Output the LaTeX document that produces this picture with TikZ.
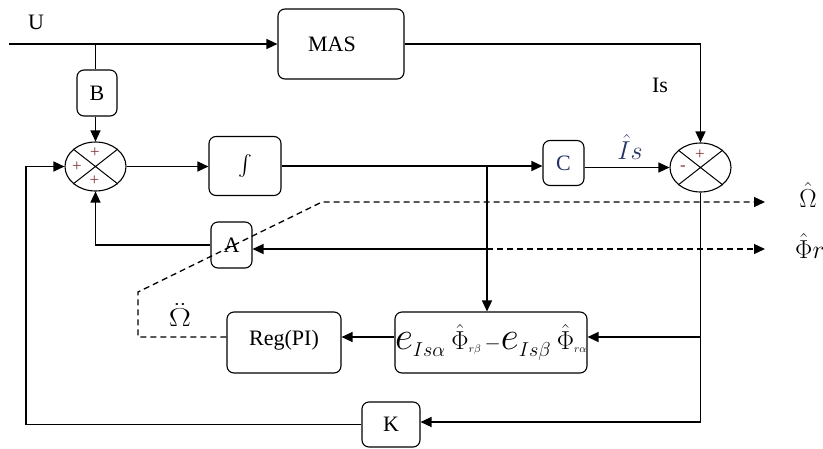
\documentclass[tikz,border=0pt]{standalone}
\usepackage{amsmath}
\usepackage{fontspec}
\setmainfont{Liberation Serif}
\usepackage{graphicx}
\usetikzlibrary{arrows.meta,shapes.geometric}
\definecolor{signcol}{rgb}{0.50,0.22,0.22}
\definecolor{bluish}{rgb}{0.15,0.20,0.40}
\newcommand{\Ee}{\scalebox{1.9}{$e$}}
\newcommand{\Sbs}[1]{\scalebox{1.4}{$\scriptstyle #1$}}
\newcommand{\Mb}[1]{\scalebox{1.25}{$#1$}}
\begin{document}
\begin{tikzpicture}[x=1pt,y=-1pt,
  blk/.style={draw, line width=1.1pt, rounded corners=7pt, inner sep=0pt, font=\fontsize{22}{26}\selectfont},
  sumnode/.style={draw, ellipse, line width=1.1pt, minimum width=61pt, minimum height=49pt, inner sep=0pt},
  wire/.style={line width=1.3pt},
  arr/.style={wire, -{Triangle[length=11pt,width=10pt]}},
  dsh/.style={line width=1.3pt, dash pattern=on 6pt off 4pt},
  lbl/.style={font=\fontsize{22}{26}\selectfont, inner sep=0pt},
  sgn/.style={font=\fontsize{17}{19}\selectfont, text=signcol, inner sep=0pt}]
\useasboundingbox (0,0) rectangle (823,448);
% blocks
\node[blk, minimum width=126pt, minimum height=70pt] (mas) at (341,44) {\hspace*{-18pt}MAS};
\node[blk, minimum width=40pt, minimum height=46pt] (B) at (97,93) {B};
\node[sumnode] (s1) at (95.5,166.5) {};
\node[blk, minimum width=72pt, minimum height=59pt] (int) at (245,166) {$\int$};
\node[blk, minimum width=41pt, minimum height=45pt, text=bluish] (C) at (563.5,163) {C};
\node[sumnode] (s2) at (700.5,167.5) {};
\node[blk, minimum width=41pt, minimum height=46pt] (A) at (231.5,245) {A};
\node[blk, minimum width=114pt, minimum height=61pt] (reg) at (284,342.5) {\raisebox{9pt}{Reg(PI)}};
\node[blk, minimum width=192pt, minimum height=61pt] (err) at (491,342.5)
  {$\Ee_{\Sbs{Is\alpha}}\;\Mb{\hat{\Phi}}_{\scriptscriptstyle r\beta}\,{-}\Ee_{\Sbs{Is\beta}}\;\Mb{\hat{\Phi}}_{\scriptscriptstyle r\alpha}$};
\node[blk, minimum width=58pt, minimum height=45pt] (K) at (391,424.5) {K};
% sum crosses
\draw[line width=1pt] (s1.142) -- (s1.-38) (s1.38) -- (s1.218);
\draw[line width=1pt] (s2.142) -- (s2.-38) (s2.38) -- (s2.218);
\node[sgn] (s1t) at (95,153) {+};
\node[sgn] (s1l) at (77,167) {+};
\node[sgn] (s1b) at (94.5,181) {+};
\node[sgn] (s2t) at (700,155) {+};
\node[sgn] (s2l) at (683,168) {-};
% labels
\node[lbl] (U) at (36,22) {U};
\node[lbl] (Is) at (660,85) {Is};
\node[lbl, text=bluish] (Ish) at (630,147) {\Mb{\hat{I}s}};
\node[lbl] (Om) at (808,195) {\Mb{\hat{\Omega}}};
\node[lbl, anchor=west] (Phr) at (795,246) {\Mb{\hat{\Phi}r}};
\node[lbl] (Omm) at (180,315) {\scalebox{1.6}[1.25]{$\ddot{\Omega}$}};
% coordinates
\coordinate (uin) at (9,44);
\coordinate (ubr) at (95.5,44);
\coordinate (br1) at (487,166);
\coordinate (phb) at (487,249);
\coordinate (phend) at (765,249);
\coordinate (omend) at (765,202);
\coordinate (d1) at (138,337);
\coordinate (d2) at (138,292);
\coordinate (d3) at (322,202);
\coordinate (regb) at (284,337);
\coordinate (errb) at (700.5,337);
\coordinate (kb) at (700.5,422);
\coordinate (kl) at (26,424.5);
% connectors
\draw[arr] (uin) -- (mas.west);
\draw[wire] (ubr) -- (ubr |- B.north);
\draw[arr] (B.south -| s1.north) -- (s1.north);
\draw[arr] (mas.east) -| (s2.north);
\draw[arr] (s1.east) -- (s1.east -| int.west);
\draw[wire] (int.east) -- (br1);
\draw[arr] (br1) -- (C.west |- br1);
\draw[arr] (C.east |- s2.west) -- (s2.west);
\draw[arr] (br1) -- (br1 |- err.north);
\draw[wire] (s2.south) -- (kb);
\draw[arr] (errb) -- (err.east |- errb);
\draw[arr] (kb) -- (K.east |- kb);
\draw[arr] (err.west |- regb) -- (reg.east |- regb);
\draw[arr] (K.west) -- (kl) |- (s1.west);
\draw[arr] (A.west) -| (s1.south);
\draw[arr] (phb) -- (A.east |- phb);
\draw[dsh, -{Triangle[length=11pt,width=10pt]}] (phb) -- (phend);
\draw[dsh, -{Triangle[length=11pt,width=10pt]}] (reg.west |- regb) -- (d1) -- (d2) -- (d3) -- (omend);
\end{tikzpicture}
\end{document}
